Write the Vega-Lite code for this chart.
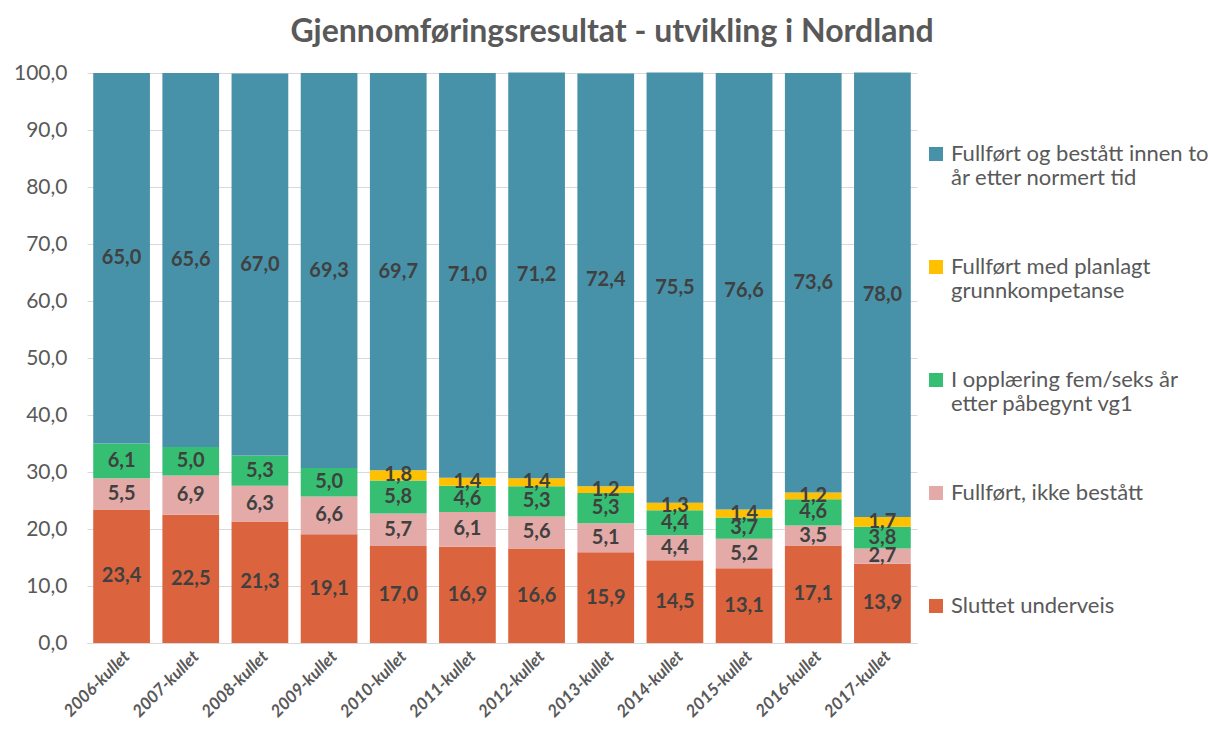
{
  "$schema": "https://vega.github.io/schema/vega-lite/v6.json",
  "width": 830,
  "height": 570,
  "autosize": {"type": "none"},
  "padding": {"left": 87, "top": 73, "right": 291, "bottom": 86},
  "background": "white",
  "config": {
    "font": "Lato",
    "view": {"stroke": null}
  },
  "title": {
    "text": "Gjennomføringsresultat - utvikling i Nordland",
    "fontSize": 32,
    "fontWeight": "bold",
    "color": "#595959",
    "anchor": "middle",
    "dx": 110,
    "offset": 13
  },
  "data": {
    "values": [
      {"kull": "2006-kullet", "kategori": "Sluttet underveis", "v": 23.4},
      {"kull": "2006-kullet", "kategori": "Fullført, ikke bestått", "v": 5.5},
      {"kull": "2006-kullet", "kategori": "I opplæring fem/seks år etter påbegynt vg1", "v": 6.1},
      {"kull": "2006-kullet", "kategori": "Fullført og bestått innen to år etter normert tid", "v": 65.0},
      {"kull": "2007-kullet", "kategori": "Sluttet underveis", "v": 22.5},
      {"kull": "2007-kullet", "kategori": "Fullført, ikke bestått", "v": 6.9},
      {"kull": "2007-kullet", "kategori": "I opplæring fem/seks år etter påbegynt vg1", "v": 5.0},
      {"kull": "2007-kullet", "kategori": "Fullført og bestått innen to år etter normert tid", "v": 65.6},
      {"kull": "2008-kullet", "kategori": "Sluttet underveis", "v": 21.3},
      {"kull": "2008-kullet", "kategori": "Fullført, ikke bestått", "v": 6.3},
      {"kull": "2008-kullet", "kategori": "I opplæring fem/seks år etter påbegynt vg1", "v": 5.3},
      {"kull": "2008-kullet", "kategori": "Fullført og bestått innen to år etter normert tid", "v": 67.0},
      {"kull": "2009-kullet", "kategori": "Sluttet underveis", "v": 19.1},
      {"kull": "2009-kullet", "kategori": "Fullført, ikke bestått", "v": 6.6},
      {"kull": "2009-kullet", "kategori": "I opplæring fem/seks år etter påbegynt vg1", "v": 5.0},
      {"kull": "2009-kullet", "kategori": "Fullført og bestått innen to år etter normert tid", "v": 69.3},
      {"kull": "2010-kullet", "kategori": "Sluttet underveis", "v": 17.0},
      {"kull": "2010-kullet", "kategori": "Fullført, ikke bestått", "v": 5.7},
      {"kull": "2010-kullet", "kategori": "I opplæring fem/seks år etter påbegynt vg1", "v": 5.8},
      {"kull": "2010-kullet", "kategori": "Fullført med planlagt grunnkompetanse", "v": 1.8},
      {"kull": "2010-kullet", "kategori": "Fullført og bestått innen to år etter normert tid", "v": 69.7},
      {"kull": "2011-kullet", "kategori": "Sluttet underveis", "v": 16.9},
      {"kull": "2011-kullet", "kategori": "Fullført, ikke bestått", "v": 6.1},
      {"kull": "2011-kullet", "kategori": "I opplæring fem/seks år etter påbegynt vg1", "v": 4.6},
      {"kull": "2011-kullet", "kategori": "Fullført med planlagt grunnkompetanse", "v": 1.4},
      {"kull": "2011-kullet", "kategori": "Fullført og bestått innen to år etter normert tid", "v": 71.0},
      {"kull": "2012-kullet", "kategori": "Sluttet underveis", "v": 16.6},
      {"kull": "2012-kullet", "kategori": "Fullført, ikke bestått", "v": 5.6},
      {"kull": "2012-kullet", "kategori": "I opplæring fem/seks år etter påbegynt vg1", "v": 5.3},
      {"kull": "2012-kullet", "kategori": "Fullført med planlagt grunnkompetanse", "v": 1.4},
      {"kull": "2012-kullet", "kategori": "Fullført og bestått innen to år etter normert tid", "v": 71.2},
      {"kull": "2013-kullet", "kategori": "Sluttet underveis", "v": 15.9},
      {"kull": "2013-kullet", "kategori": "Fullført, ikke bestått", "v": 5.1},
      {"kull": "2013-kullet", "kategori": "I opplæring fem/seks år etter påbegynt vg1", "v": 5.3},
      {"kull": "2013-kullet", "kategori": "Fullført med planlagt grunnkompetanse", "v": 1.2},
      {"kull": "2013-kullet", "kategori": "Fullført og bestått innen to år etter normert tid", "v": 72.4},
      {"kull": "2014-kullet", "kategori": "Sluttet underveis", "v": 14.5},
      {"kull": "2014-kullet", "kategori": "Fullført, ikke bestått", "v": 4.4},
      {"kull": "2014-kullet", "kategori": "I opplæring fem/seks år etter påbegynt vg1", "v": 4.4},
      {"kull": "2014-kullet", "kategori": "Fullført med planlagt grunnkompetanse", "v": 1.3},
      {"kull": "2014-kullet", "kategori": "Fullført og bestått innen to år etter normert tid", "v": 75.5},
      {"kull": "2015-kullet", "kategori": "Sluttet underveis", "v": 13.1},
      {"kull": "2015-kullet", "kategori": "Fullført, ikke bestått", "v": 5.2},
      {"kull": "2015-kullet", "kategori": "I opplæring fem/seks år etter påbegynt vg1", "v": 3.7},
      {"kull": "2015-kullet", "kategori": "Fullført med planlagt grunnkompetanse", "v": 1.4},
      {"kull": "2015-kullet", "kategori": "Fullført og bestått innen to år etter normert tid", "v": 76.6},
      {"kull": "2016-kullet", "kategori": "Sluttet underveis", "v": 17.1},
      {"kull": "2016-kullet", "kategori": "Fullført, ikke bestått", "v": 3.5},
      {"kull": "2016-kullet", "kategori": "I opplæring fem/seks år etter påbegynt vg1", "v": 4.6},
      {"kull": "2016-kullet", "kategori": "Fullført med planlagt grunnkompetanse", "v": 1.2},
      {"kull": "2016-kullet", "kategori": "Fullført og bestått innen to år etter normert tid", "v": 73.6},
      {"kull": "2017-kullet", "kategori": "Sluttet underveis", "v": 13.9},
      {"kull": "2017-kullet", "kategori": "Fullført, ikke bestått", "v": 2.7},
      {"kull": "2017-kullet", "kategori": "I opplæring fem/seks år etter påbegynt vg1", "v": 3.8},
      {"kull": "2017-kullet", "kategori": "Fullført med planlagt grunnkompetanse", "v": 1.7},
      {"kull": "2017-kullet", "kategori": "Fullført og bestått innen to år etter normert tid", "v": 78.0}
    ]
  },
  "transform": [
    {"calculate": "indexof(['Sluttet underveis','Fullført, ikke bestått','I opplæring fem/seks år etter påbegynt vg1','Fullført med planlagt grunnkompetanse','Fullført og bestått innen to år etter normert tid'], datum.kategori)", "as": "ord"},
    {"stack": "v", "groupby": ["kull"], "sort": [{"field": "ord", "order": "ascending"}], "as": ["v0", "v1"]},
    {"calculate": "(datum.v0 + datum.v1) / 2", "as": "mid"},
    {"calculate": "replace(format(datum.v, '.1f'), '.', ',')", "as": "lab"}
  ],
  "encoding": {
    "x": {
      "field": "kull",
      "type": "nominal",
      "title": null,
      "scale": {"paddingInner": 0.18, "paddingOuter": 0.09},
      "axis": {
        "labelAngle": -45,
        "labelFontSize": 17,
        "labelFontWeight": "bold",
        "labelFontStyle": "italic",
        "labelColor": "#595959",
        "ticks": false,
        "domainColor": "#d9d9d9",
        "labelPadding": 5
      }
    }
  },
  "layer": [
    {
      "mark": {"type": "bar"},
      "encoding": {
        "y": {
          "field": "v0",
          "type": "quantitative",
          "title": null,
          "scale": {"domain": [0, 100], "nice": false},
          "axis": {
            "values": [0, 10, 20, 30, 40, 50, 60, 70, 80, 90, 100],
            "labelExpr": "replace(format(datum.value, '.1f'), '.', ',')",
            "labelFontSize": 21,
            "labelColor": "#595959",
            "gridColor": "#d9d9d9",
            "domain": false,
            "ticks": false,
            "labelPadding": 20
          }
        },
        "y2": {"field": "v1"},
        "color": {
          "field": "kategori",
          "type": "nominal",
          "scale": {
            "domain": ["Fullført og bestått innen to år etter normert tid", "Fullført med planlagt grunnkompetanse", "I opplæring fem/seks år etter påbegynt vg1", "Fullført, ikke bestått", "Sluttet underveis"],
            "range": ["#4792A8", "#FFC000", "#36BE72", "#E3AAA8", "#DB633D"]
          },
          "legend": {
            "title": null,
            "orient": "none",
            "legendX": 838,
            "legendY": 70,
            "symbolType": "square",
            "symbolSize": 196,
            "symbolStrokeWidth": 0,
            "labelFontSize": 22,
            "labelColor": "#595959",
            "labelLimit": 0,
            "labelOffset": 4,
            "labelBaseline": "middle",
            "gridAlign": "all",
            "rowPadding": 67,
            "labelExpr": "datum.label == 'Fullført og bestått innen to år etter normert tid' ? ['Fullført og bestått innen to', 'år etter normert tid'] : datum.label == 'Fullført med planlagt grunnkompetanse' ? ['Fullført med planlagt', 'grunnkompetanse'] : datum.label == 'I opplæring fem/seks år etter påbegynt vg1' ? ['I opplæring fem/seks år', 'etter påbegynt vg1'] : [datum.label, '']"
          }
        }
      }
    },
    {
      "mark": {"type": "text", "fontSize": 20, "fontWeight": "bold", "color": "#404040", "baseline": "middle"},
      "encoding": {
        "y": {"field": "mid", "type": "quantitative"},
        "text": {"field": "lab"}
      }
    }
  ]
}
